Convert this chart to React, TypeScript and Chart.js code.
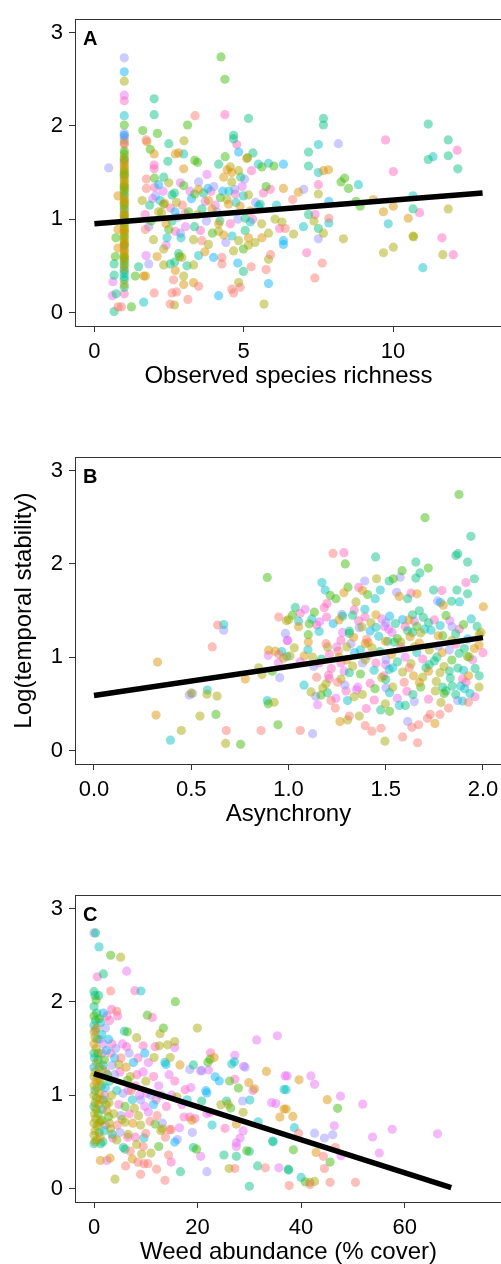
import { useEffect, useRef } from 'react';
import { Chart, registerables } from 'chart.js';

Chart.register(...registerables);

// ggplot2 default hue palette for the 10 groups
const groupColors = ['#F8766D', '#D89000', '#A3A500', '#39B600', '#00BF7D', '#00BFC4', '#00B0F6', '#9590FF', '#E76BF3', '#FF62BC'];

// ---------- Panel A : observed species richness ----------
const richnessColumn: number[][] = [
  [1, 2.73, 7], [1, 2.58, 6], [1, 2.48, 2], [1, 2.33, 8], [1, 2.27, 9], [1, 2.11, 5], [1, 2.01, 3], [1, 1.92, 7], [1, 1.9, 6], [1, 1.88, 8],
  [1, 1.85, 7], [1, 1.82, 1], [1, 1.8, 9], [1, 1.73, 3], [1, 1.7, 3], [1, 1.66, 2], [1, 1.62, 9], [1, 1.6, 2], [1, 1.57, 1], [1, 1.55, 2],
  [1, 1.52, 3], [1, 1.5, 2], [1, 1.47, 4], [1, 1.45, 2], [1, 1.42, 2], [1, 1.4, 1], [1, 1.37, 3], [1, 1.35, 2], [1, 1.32, 2], [1, 1.3, 4],
  [1, 1.27, 2], [1, 1.25, 5], [1, 1.22, 2], [1, 1.2, 1], [1, 1.17, 2], [1, 1.15, 3], [1, 1.12, 2], [1, 1.1, 6], [1, 1.07, 2], [1, 1.05, 1],
  [1, 1.02, 2], [1, 1.0, 4], [1, 0.97, 2], [1, 0.95, 3], [1, 0.92, 2], [1, 0.9, 2], [1, 0.87, 1], [1, 0.85, 2], [1, 0.82, 3], [1, 0.8, 2],
  [1, 0.77, 2], [1, 0.75, 1], [1, 0.72, 2], [1, 0.7, 9], [1, 0.67, 2], [1, 0.65, 1], [1, 0.62, 2], [1, 0.6, 3], [1, 0.57, 2], [1, 0.55, 5],
  [1, 0.52, 2], [1, 0.5, 4], [1, 0.47, 2], [1, 0.45, 6], [1, 0.42, 4], [1, 0.38, 5], [1, 0.35, 4], [1, 0.3, 2], [1, 0.27, 4], [1, 0.2, 9],
  [1, 1.64, 3], [1, 1.48, 2], [1, 1.34, 3], [1, 1.18, 2], [1, 1.04, 3], [1, 0.88, 2], [1, 0.73, 3], [1, 0.58, 2],
];
const richnessLow: number[][] = [
  [0.48, 1.55, 7], [0.79, 1.25, 1], [0.79, 0.89, 1], [0.79, 0.69, 1], [0.66, 0.52, 4], [0.66, 0.4, 4], [0.62, 0.33, 8], [0.6, 0.18, 8],
  [0.73, 0.2, 4], [0.66, 0.01, 4], [0.79, 0.06, 0], [0.9, 0.06, 0], [1.24, 0.06, 3], [1.37, 0.39, 3], [1.65, 0.39, 1], [1.65, 0.11, 5],
  [1.48, 0.49, 4], [0.72, 0.8, 3], [0.7, 0.6, 3],
];
const richnessMid: number[][] = [
  [4.24, 2.74, 3], [4.37, 2.5, 3], [2.0, 2.29, 4], [2.0, 2.12, 4], [3.37, 2.11, 0], [4.37, 2.12, 9], [5.16, 2.08, 4], [3.12, 2.01, 3],
  [1.62, 1.95, 3], [2.11, 1.92, 3], [1.73, 1.85, 0], [1.76, 1.83, 1], [3.0, 1.84, 2], [2.49, 1.81, 4], [1.87, 1.75, 3], [2.0, 1.7, 1],
  [4.66, 1.9, 4], [4.66, 1.86, 4], [4.77, 1.8, 9], [2.71, 1.7, 1], [2.82, 1.71, 1], [2.46, 1.62, 4], [2.99, 1.7, 5], [3.36, 1.63, 3],
  [3.45, 1.61, 3], [4.16, 1.59, 4], [4.38, 1.67, 3], [5.31, 1.71, 4], [5.13, 1.66, 3], [4.83, 1.72, 6], [5.1, 1.65, 1], [5.49, 1.59, 5],
  [5.61, 1.56, 3], [5.83, 1.6, 5], [6.01, 1.57, 3], [6.33, 1.59, 6], [2.0, 1.58, 9], [2.0, 1.54, 9], [2.99, 1.54, 1], [2.32, 1.45, 4],
  [4.55, 1.56, 2], [4.45, 1.53, 1], [4.6, 1.5, 1], [5.26, 1.52, 9], [4.83, 1.52, 2], [5.03, 1.43, 7], [4.33, 1.45, 1], [4.9, 1.45, 4],
  [1.74, 1.43, 0], [1.74, 1.33, 0], [2.01, 1.44, 3], [2.15, 1.37, 6], [2.02, 1.34, 9], [1.95, 1.22, 8], [2.88, 1.39, 8], [2.49, 1.39, 2],
  [2.68, 1.28, 4], [2.6, 1.26, 4], [2.99, 1.36, 3], [3.77, 1.48, 8], [3.49, 1.4, 7], [3.49, 1.32, 1], [3.36, 1.27, 3], [3.8, 1.33, 6],
  [4.0, 1.35, 7], [3.2, 1.3, 8], [4.22, 1.23, 3], [4.44, 1.21, 2], [4.49, 1.16, 1], [5.16, 1.26, 2], [4.99, 1.25, 5], [5.89, 1.32, 9],
  [5.66, 1.28, 9], [6.33, 1.33, 1], [4.7, 1.32, 7], [4.5, 1.3, 5], [4.72, 1.27, 9], [5.5, 1.14, 6], [5.55, 1.16, 4], [2.32, 1.16, 3],
  [2.35, 1.17, 1], [2.15, 1.08, 2], [2.25, 1.07, 2], [2.7, 1.08, 6], [3.04, 1.06, 9], [3.71, 1.19, 8], [3.94, 1.11, 1], [3.82, 1.2, 1],
  [3.6, 1.11, 4], [4.1, 1.08, 7], [4.74, 1.18, 5], [4.88, 1.14, 1], [5.22, 1.09, 1], [6.05, 1.0, 2], [6.28, 0.97, 2], [6.39, 0.9, 0],
  [5.05, 1.01, 4], [5.22, 0.97, 5], [1.71, 0.89, 0], [1.82, 0.92, 7], [2.49, 0.89, 3], [2.71, 0.87, 9], [1.98, 0.78, 2], [2.43, 0.8, 5],
  [2.88, 0.85, 7], [3.32, 0.78, 2], [3.6, 0.77, 0], [3.82, 0.73, 2], [4.16, 0.95, 1], [4.16, 0.87, 2], [4.33, 0.83, 1], [4.61, 0.82, 5],
  [4.83, 0.77, 2], [5.16, 0.8, 1], [5.38, 0.75, 2], [5.61, 0.8, 1], [5.83, 0.85, 2], [6.33, 0.77, 6], [6.33, 0.73, 6], [2.32, 0.68, 2],
  [2.82, 0.63, 4], [2.93, 0.59, 2], [2.85, 0.6, 3], [3.49, 0.61, 5], [3.99, 0.59, 6], [4.27, 0.59, 0], [4.66, 0.66, 2], [4.99, 0.68, 3],
  [5.16, 0.72, 2], [1.82, 0.52, 7], [1.73, 0.61, 8], [2.32, 0.51, 2], [2.54, 0.52, 4], [2.69, 0.54, 4], [4.27, 0.52, 0], [4.8, 0.53, 6],
  [2.71, 0.45, 1], [2.65, 0.35, 0], [2.99, 0.39, 2], [2.99, 0.3, 1], [3.32, 0.51, 2], [3.32, 0.32, 1], [3.49, 0.28, 0], [3.13, 0.14, 0],
  [2.6, 0.21, 0], [2.75, 0.22, 0], [1.71, 0.39, 1], [2.0, 0.21, 0], [2.54, 0.09, 0], [2.68, 0.08, 2], [4.16, 0.18, 6], [4.6, 0.25, 0],
  [4.66, 0.21, 0], [4.88, 0.27, 0], [4.83, 0.32, 2], [5.25, 0.49, 0], [4.99, 0.44, 4], [5.75, 0.46, 0], [5.83, 0.57, 2], [5.83, 0.31, 6],
  [5.68, 0.09, 2],
];
const richnessDense: number[][] = [
  [1.6, 1.2, 2], [1.7, 1.05, 9], [1.85, 1.15, 4], [1.9, 0.98, 3], [2.05, 1.25, 7], [2.2, 1.2, 5], [2.3, 1.3, 8], [2.4, 0.95, 1],
  [2.55, 1.12, 9], [2.6, 0.98, 4], [2.75, 1.18, 2], [2.8, 1.02, 7], [2.95, 1.15, 0], [3.05, 0.92, 8], [3.15, 1.08, 3], [3.25, 1.22, 6],
  [3.35, 0.92, 4], [3.45, 1.05, 2], [3.55, 0.88, 9], [3.65, 1.28, 4], [3.75, 0.98, 7], [3.9, 1.3, 9], [3.95, 0.85, 3], [4.05, 1.15, 8],
  [4.2, 0.98, 4], [4.3, 1.3, 6], [4.4, 0.75, 7], [4.55, 0.95, 9], [4.6, 1.4, 2], [4.8, 1.0, 7], [4.95, 1.35, 8], [5.05, 0.88, 4],
  [5.3, 1.0, 9], [5.4, 1.18, 7], [5.6, 0.95, 2], [5.75, 1.35, 3], [5.9, 0.62, 0], [6.1, 1.15, 5], [6.2, 0.9, 9], [2.1, 0.6, 1],
  [2.4, 0.72, 8], [3.1, 0.5, 4], [3.7, 0.65, 1], [2.9, 0.8, 5],
];
const richnessHigh: number[][] = [
  [7.67, 2.08, 4], [7.67, 2.01, 4], [11.18, 2.02, 4], [9.75, 1.85, 9], [8.17, 1.81, 7], [7.5, 1.8, 5], [11.85, 1.85, 4], [12.15, 1.74, 9],
  [7.17, 1.72, 4], [11.18, 1.64, 4], [11.34, 1.67, 5], [11.85, 1.68, 4], [12.17, 1.54, 4], [10.01, 1.51, 9], [7.17, 1.57, 4], [7.5, 1.5, 5],
  [7.67, 1.52, 1], [7.84, 1.53, 1], [8.26, 1.4, 3], [8.38, 1.44, 3], [8.51, 1.33, 3], [8.84, 1.37, 5], [7.5, 1.37, 9], [7.5, 1.27, 2],
  [7.01, 1.32, 7], [6.83, 1.29, 1], [6.64, 1.21, 0], [7.85, 1.19, 6], [8.76, 1.19, 3], [8.9, 1.14, 3], [9.34, 1.21, 1], [10.67, 1.25, 5],
  [9.68, 1.08, 1], [10.01, 1.14, 1], [10.67, 1.11, 4], [10.89, 1.07, 9], [11.85, 1.11, 2], [10.51, 1.01, 1], [9.84, 0.95, 5], [7.17, 1.05, 4],
  [7.39, 1.05, 9], [7.85, 1.01, 0], [7.85, 0.96, 5], [7.35, 0.98, 2], [7.5, 0.9, 4], [7.0, 0.92, 5], [6.67, 0.84, 2], [7.67, 0.85, 2],
  [8.34, 0.79, 2], [7.5, 0.79, 7], [10.67, 0.82, 2], [10.69, 0.81, 2], [11.64, 0.8, 9], [9.68, 0.64, 2], [10.01, 0.7, 2], [11.67, 0.62, 2],
  [12.02, 0.62, 9], [7.11, 0.64, 9], [7.63, 0.53, 0], [11.0, 0.48, 5], [7.38, 0.37, 0],
];
const richnessFit = [[0, 0.95], [13, 1.28]];

// ---------- Panel B : asynchrony ----------
const asynchronyLow: number[][] = [
  [0.891, 1.855, 3], [0.95, 1.43, 0], [0.99, 1.39, 2], [0.636, 1.345, 0], [0.667, 1.35, 5], [0.667, 1.29, 7], [0.608, 1.11, 0],
  [0.327, 0.948, 1], [0.984, 1.255, 7], [0.994, 1.18, 8], [0.898, 1.075, 1], [0.932, 1.065, 1], [0.965, 1.06, 5], [0.896, 1.02, 8],
  [0.95, 1.03, 0], [0.974, 0.99, 1], [0.948, 0.94, 8], [0.847, 0.886, 2], [0.864, 0.814, 2], [0.917, 0.85, 3], [0.955, 0.78, 7],
  [0.778, 0.765, 1], [0.49, 0.594, 7], [0.507, 0.61, 7], [0.5, 0.617, 2], [0.583, 0.648, 5], [0.581, 0.604, 2], [0.633, 0.583, 2],
  [0.891, 0.535, 5], [0.896, 0.5, 3], [0.926, 0.517, 2], [0.319, 0.379, 1], [0.545, 0.369, 2], [0.627, 0.386, 3], [0.946, 0.276, 3],
  [0.68, 0.214, 0], [0.859, 0.214, 0], [0.449, 0.214, 2], [0.393, 0.11, 5], [0.677, 0.076, 2], [0.754, 0.066, 3],
];
const asynchronyHigh: number[][] = [
  [1.877, 2.744, 3], [1.702, 2.496, 3], [1.938, 2.296, 4], [1.861, 2.09, 4], [1.871, 2.11, 4], [1.229, 2.113, 0], [1.285, 2.12, 9],
  [1.448, 2.075, 4], [1.292, 2.0, 3], [1.921, 2.02, 4], [1.584, 1.927, 3], [1.719, 1.955, 3], [1.655, 2.02, 4], [1.676, 1.903, 4],
  [1.655, 1.848, 4], [1.913, 1.8, 9], [1.956, 1.841, 4], [1.172, 1.8, 5], [1.189, 1.72, 5], [1.392, 1.817, 7], [1.453, 1.841, 2],
  [1.518, 1.817, 4], [1.539, 1.84, 3], [1.575, 1.858, 7], [1.306, 1.751, 3], [1.472, 1.72, 5], [1.215, 1.662, 3], [1.244, 1.627, 3],
  [1.285, 1.69, 1], [1.361, 1.748, 9], [1.381, 1.714, 1], [1.407, 1.672, 3], [1.556, 1.696, 7], [1.57, 1.651, 1], [1.613, 1.627, 4],
  [1.63, 1.686, 9], [1.661, 1.679, 1], [1.746, 1.72, 4], [1.789, 1.714, 9], [1.866, 1.72, 4], [1.767, 1.603, 7], [1.781, 1.586, 6],
  [1.839, 1.6, 4], [1.88, 1.593, 5], [1.796, 1.558, 1], [1.921, 1.679, 4], [2.002, 1.541, 1], [1.446, 1.627, 5], [1.035, 1.534, 4],
  [1.085, 1.514, 8], [1.133, 1.483, 3], [1.184, 1.531, 9], [1.198, 1.575, 9], [1.196, 1.431, 9], [1.001, 1.403, 2], [1.052, 1.386, 5],
  [1.107, 1.358, 3], [1.145, 1.345, 9], [1.052, 1.327, 1], [1.158, 1.276, 5], [1.102, 1.241, 3], [0.996, 1.179, 8], [1.102, 1.162, 1],
  [1.278, 1.438, 4], [1.275, 1.46, 7], [1.338, 1.507, 9], [1.347, 1.593, 2], [1.393, 1.514, 5], [1.393, 1.431, 9], [1.45, 1.455, 1],
  [1.501, 1.369, 7], [1.494, 1.33, 8], [1.587, 1.403, 6], [1.638, 1.455, 4], [1.673, 1.497, 4], [1.693, 1.428, 4], [1.647, 1.386, 8],
  [1.81, 1.448, 3], [1.733, 1.289, 5], [1.841, 1.327, 7], [1.878, 1.3, 9], [1.313, 1.255, 4], [1.313, 1.28, 4], [1.335, 1.214, 1],
  [1.378, 1.324, 2], [1.424, 1.369, 2], [1.278, 1.265, 8], [1.364, 1.317, 7], [1.464, 1.224, 5], [1.515, 1.3, 8], [1.532, 1.265, 8],
  [1.613, 1.283, 4], [1.638, 1.265, 4], [1.625, 1.22, 1], [1.68, 1.26, 2], [1.793, 1.231, 3], [1.77, 1.23, 1], [1.99, 1.265, 2],
  [1.981, 1.241, 2], [1.956, 1.093, 1], [1.921, 1.196, 6], [1.827, 1.076, 7], [1.878, 1.042, 4], [1.904, 1.093, 4], [2.0, 1.048, 9],
  [1.921, 1.007, 3], [1.947, 0.972, 8], [1.193, 1.145, 0], [1.201, 1.11, 2], [1.248, 1.11, 8], [1.256, 1.066, 0], [1.21, 1.03, 9],
  [1.3, 1.11, 2], [1.321, 1.145, 7], [1.395, 1.145, 1], [1.41, 1.155, 1], [1.402, 1.19, 0], [1.429, 1.1, 2], [1.51, 1.17, 4],
  [1.544, 1.162, 4], [1.498, 1.17, 1], [1.578, 1.162, 2], [1.578, 1.11, 9], [1.647, 1.11, 2], [1.673, 1.152, 1], [1.724, 1.076, 2],
  [1.763, 1.0, 4], [1.79, 1.05, 1], [1.008, 1.014, 2], [1.081, 1.014, 1], [1.124, 1.0, 2], [0.992, 1.007, 5], [1.158, 0.938, 9],
  [1.27, 0.938, 9], [1.33, 0.904, 2], [1.313, 0.834, 4], [1.286, 0.85, 8], [1.381, 0.938, 7], [1.45, 0.938, 9], [1.395, 0.972, 2],
  [1.501, 0.972, 7], [1.5, 0.92, 8], [1.536, 0.886, 5], [1.518, 0.869, 5], [1.587, 0.841, 2], [1.621, 0.886, 0], [1.643, 0.8, 1],
  [1.69, 0.786, 2], [1.707, 0.886, 4], [1.724, 0.92, 4], [1.779, 0.834, 2], [1.827, 0.852, 4], [1.832, 0.776, 4], [1.871, 0.883, 4],
  [1.981, 0.8, 4], [1.895, 0.766, 9], [1.913, 0.731, 9], [1.926, 0.8, 1], [1.145, 0.786, 0], [1.206, 0.807, 9], [1.21, 0.77, 9],
  [1.193, 0.714, 2], [1.176, 0.669, 2], [1.116, 0.628, 2], [1.167, 0.593, 3], [1.14, 0.58, 7], [1.253, 0.731, 0], [1.27, 0.766, 2],
  [1.356, 0.679, 8], [1.35, 0.65, 8], [1.296, 0.638, 9], [1.445, 0.662, 3], [1.501, 0.672, 7], [1.536, 0.679, 2], [1.48, 0.78, 2],
  [1.5, 0.76, 4], [1.595, 0.731, 0], [1.609, 0.635, 9], [1.673, 0.73, 1], [1.755, 0.638, 2], [1.793, 0.679, 4], [1.81, 0.638, 4],
  [1.8, 0.61, 3], [1.841, 0.69, 4], [1.885, 0.69, 5], [1.906, 0.662, 5], [1.933, 0.61, 5], [1.959, 0.576, 9], [1.87, 0.535, 7],
  [1.895, 0.53, 5], [1.925, 0.517, 0], [1.784, 0.514, 2], [1.823, 0.455, 0], [1.244, 0.559, 8], [1.219, 0.535, 0], [1.241, 0.455, 0],
  [1.15, 0.49, 8], [1.304, 0.535, 5], [1.338, 0.576, 2], [1.441, 0.541, 9], [1.498, 0.5, 2], [1.474, 0.435, 4], [1.57, 0.483, 5],
  [1.601, 0.483, 4], [1.647, 0.524, 7], [1.313, 0.369, 0], [1.364, 0.369, 2], [1.265, 0.31, 1], [1.304, 0.328, 2], [1.395, 0.266, 0],
  [1.429, 0.207, 0], [1.476, 0.238, 0], [1.613, 0.31, 7], [1.635, 0.248, 0], [1.669, 0.276, 0], [1.715, 0.345, 0], [1.729, 0.386, 0],
  [1.753, 0.29, 1], [1.779, 0.386, 0], [1.587, 0.145, 0], [1.664, 0.083, 0], [1.496, 0.1, 2], [1.061, 0.214, 0], [1.124, 0.18, 7],
];
const asynchronyDense: number[][] = [
  [1.02, 1.45, 3], [1.06, 1.47, 9], [1.12, 1.41, 5], [1.16, 1.38, 8], [1.23, 1.36, 6], [1.26, 1.4, 1], [1.33, 1.45, 4], [1.36, 1.39, 9],
  [1.42, 1.28, 6], [1.45, 1.32, 5], [1.48, 1.41, 8], [1.52, 1.44, 6], [1.55, 1.36, 4], [1.6, 1.33, 9], [1.62, 1.4, 1], [1.66, 1.33, 3],
  [1.7, 1.3, 5], [1.72, 1.37, 4], [1.75, 1.4, 9], [1.78, 1.34, 5], [1.83, 1.39, 8], [1.86, 1.25, 4], [1.9, 1.35, 3], [1.94, 1.41, 5],
  [1.97, 1.33, 4], [1.03, 1.1, 2], [1.06, 0.95, 8], [1.1, 1.08, 5], [1.13, 0.9, 7], [1.17, 0.98, 4], [1.22, 0.88, 9], [1.26, 1.0, 2],
  [1.3, 0.97, 1], [1.34, 1.05, 6], [1.37, 0.82, 3], [1.41, 1.02, 8], [1.44, 0.86, 5], [1.47, 1.06, 4], [1.49, 0.8, 9], [1.53, 1.03, 1],
  [1.56, 0.95, 4], [1.6, 1.0, 8], [1.63, 0.93, 2], [1.66, 1.05, 5], [1.69, 0.98, 9], [1.72, 0.85, 1], [1.75, 0.96, 4], [1.77, 1.12, 7],
  [1.8, 0.9, 2], [1.84, 0.97, 3], [1.86, 1.14, 9], [1.9, 0.86, 5], [1.93, 1.0, 2], [1.96, 0.88, 4], [1.98, 1.13, 1], [1.84, 1.18, 2],
  [1.56, 1.2, 3], [1.37, 1.08, 5], [1.27, 1.18, 9], [1.08, 0.7, 5], [1.2, 0.62, 4], [1.29, 0.7, 7], [1.38, 0.6, 2], [1.42, 0.72, 9],
  [1.52, 0.62, 5], [1.56, 0.56, 8], [1.64, 0.6, 4], [1.68, 0.68, 3], [1.72, 0.55, 9], [1.76, 0.74, 2], [1.86, 0.6, 4], [1.98, 0.68, 2],
  [1.52, 0.42, 3], [1.4, 0.45, 9],
];
const asynchronyFit = [[0, 0.59], [2, 1.21]];

// ---------- Panel C : weed abundance ----------
const weedZero: number[][] = [
  [0, 1.95, 4], [0, 1.85, 3], [0.3, 1.8, 4], [0, 1.75, 5], [0.5, 1.72, 1], [0, 1.68, 1], [0.2, 1.62, 2], [0.6, 1.6, 4], [0, 1.55, 1],
  [0.4, 1.5, 2], [0, 1.45, 4], [0.8, 1.45, 3], [0.1, 1.4, 5], [0.5, 1.35, 2], [0, 1.3, 6], [1.0, 1.3, 4], [0.2, 1.25, 2], [0.7, 1.22, 1],
  [0, 1.2, 2], [0.4, 1.15, 1], [1.2, 1.15, 2], [0, 1.1, 2], [0.6, 1.08, 2], [0.2, 1.05, 5], [1.0, 1.02, 2], [0, 1.0, 2], [0.5, 0.97, 3],
  [0.2, 0.92, 2], [0.9, 0.9, 2], [0, 0.88, 4], [0.4, 0.85, 2], [0.1, 0.8, 2], [0.8, 0.8, 3], [0.3, 0.75, 2], [1.2, 0.72, 2], [0, 0.7, 2],
  [0.6, 0.67, 2], [0.2, 0.62, 2], [1.0, 0.6, 4], [0, 0.57, 2], [0.5, 0.52, 2], [0.2, 0.5, 2], [1.3, 0.48, 4], [0, 0.48, 5],
  [0.5, 1.88, 4], [1.0, 1.82, 3], [0.3, 1.7, 6], [1.1, 1.6, 7], [1.5, 1.45, 9], [0.8, 1.38, 4], [1.8, 1.32, 5], [2.3, 1.25, 8],
  [0.9, 1.18, 2], [1.5, 1.1, 4], [2.0, 1.0, 9], [1.2, 0.95, 1], [2.4, 0.9, 2], [1.6, 0.85, 6], [2.8, 0.77, 3], [1.0, 0.7, 2],
  [2.2, 0.68, 8], [3.2, 0.64, 2], [1.2, 0.55, 1],
];
const weedLow: number[][] = [
  [0, 2.74, 7], [0.3, 2.74, 4], [0.97, 2.59, 5], [3.22, 2.5, 3], [5.15, 2.48, 2], [6.31, 2.33, 8], [1.8, 2.3, 4], [0.64, 2.27, 9],
  [3.22, 2.117, 0], [7.9, 2.12, 9], [9.07, 2.117, 5], [15.7, 2.003, 3], [0, 2.11, 4], [0.2, 2.07, 4], [0.4, 2.02, 3], [0.9, 2.07, 4],
  [3.4, 1.92, 9], [4.4, 1.9, 0], [4.57, 1.85, 9], [10.3, 1.858, 3], [11.26, 1.834, 9], [19.95, 1.72, 2], [13.4, 1.72, 3], [12.74, 1.66, 2],
  [5.86, 1.686, 5], [6.43, 1.679, 3], [8.24, 1.617, 2], [12.6, 1.53, 2], [14.2, 1.54, 2], [15.6, 1.575, 2], [9.5, 1.53, 9], [6.3, 1.52, 9],
  [15.6, 1.51, 8], [11.6, 1.403, 2], [14.7, 1.403, 2], [13.7, 1.352, 5], [13.9, 1.33, 6], [16.6, 1.324, 1], [19.2, 1.324, 4],
  [18.5, 1.276, 7], [20.8, 1.265, 7], [20.6, 1.26, 8], [15.6, 1.152, 9], [14.5, 1.22, 8], [17.6, 1.059, 9], [18.7, 1.082, 8],
  [1.8, 1.88, 6], [2.5, 1.85, 9], [1.3, 1.78, 6], [2.2, 1.72, 7], [3.0, 1.8, 9], [1.5, 1.65, 5], [2.8, 1.6, 6], [3.5, 1.55, 9],
  [1.8, 1.55, 8], [2.4, 1.48, 6], [4.2, 1.5, 7], [3.2, 1.45, 9], [5.2, 1.4, 0], [2.0, 1.38, 3], [4.8, 1.33, 2], [3.5, 1.32, 7],
  [6.2, 1.3, 1], [1.6, 1.28, 2], [2.6, 1.22, 3], [4.0, 1.22, 7], [5.0, 1.25, 9], [7.0, 1.2, 2], [6.5, 1.16, 3], [3.0, 1.15, 4],
  [8.3, 1.22, 9], [9.5, 1.25, 8], [2.2, 1.08, 6], [4.4, 1.05, 5], [3.4, 1.0, 2], [5.6, 1.02, 7], [7.2, 1.05, 0], [8.8, 1.0, 8],
  [1.8, 0.95, 4], [2.9, 0.92, 2], [4.8, 0.9, 9], [6.0, 0.88, 3], [7.8, 0.86, 2], [9.8, 0.88, 8], [2.5, 0.83, 1], [3.8, 0.8, 2],
  [5.2, 0.78, 7], [6.8, 0.8, 9], [8.6, 0.78, 2], [10.5, 0.82, 8], [11.5, 0.9, 6], [1.5, 0.73, 3], [3.0, 0.7, 2], [4.5, 0.68, 0],
  [7.5, 0.7, 1], [9.0, 0.68, 2], [2.0, 0.62, 5], [5.0, 0.6, 7], [6.6, 0.58, 2], [8.0, 0.55, 9], [3.5, 0.58, 4], [11.0, 1.0, 7],
  [12.5, 1.1, 8], [10.0, 1.15, 2], [11.5, 1.2, 9], [17.4, 0.766, 9], [18.5, 0.766, 9], [18.9, 0.731, 1], [19.5, 0.75, 9],
  [15.6, 0.497, 6], [16.1, 0.524, 7], [19.2, 0.438, 4], [19.8, 0.421, 3], [16.7, 0.18, 4], [13.7, 0.087, 0], [12.1, 0.207, 0],
  [9.0, 0.152, 0], [9.65, 0.266, 0], [10.4, 0.266, 0], [14.9, 0.283, 9], [14.4, 0.359, 0], [9.2, 0.369, 2], [7.4, 0.317, 1],
  [6.1, 0.242, 0], [1.22, 0.3, 1], [3.09, 0.325, 1], [2.5, 0.3, 8], [5.66, 0.438, 4], [6.0, 0.42, 4], [8.24, 0.472, 2], [7.0, 0.4, 0],
  [4.05, 0.1, 2], [4.4, 0.52, 2], [1.7, 0.5, 4], [3.6, 0.54, 9], [5.4, 0.74, 2], [6.0, 0.71, 2], [9.65, 0.542, 5], [10.0, 0.59, 0],
  [12.9, 0.62, 2], [13.2, 0.64, 2], [14.6, 0.63, 0], [14.9, 0.63, 0], [11.8, 0.69, 3], [13.2, 0.7, 7], [12.2, 0.78, 0],
  [4.0, 1.4, 6], [5.5, 1.55, 8], [6.8, 1.45, 7], [7.6, 1.35, 6], [8.5, 1.4, 9], [9.8, 1.45, 6], [10.5, 1.35, 8], [11.8, 1.52, 9],
  [6.6, 1.05, 8], [7.4, 0.95, 5], [8.0, 1.1, 9], [9.0, 0.95, 7], [10.2, 1.02, 8], [10.8, 0.72, 0], [12.0, 0.95, 9], [13.0, 1.0, 7],
  [14.0, 0.88, 9], [15.0, 1.0, 8], [16.0, 0.98, 2], [17.0, 0.9, 8], [18.0, 0.95, 5], [9.5, 0.45, 0], [11.0, 0.38, 2], [12.5, 0.45, 3],
  [8.5, 0.28, 0], [6.5, 0.55, 9], [13.8, 0.55, 0], [16.5, 0.65, 8], [19.0, 0.6, 7],
];
const weedMid: number[][] = [
  [31.4, 1.593, 8], [35.4, 1.637, 8], [22.5, 1.455, 9], [27.2, 1.427, 8], [22.0, 1.352, 3], [22.4, 1.386, 3], [23.2, 1.403, 1],
  [26.6, 1.334, 5], [27.1, 1.358, 5], [29.2, 1.3, 7], [28.9, 1.31, 8], [33.3, 1.255, 1], [36.9, 1.207, 8], [22.1, 1.27, 8],
  [23.4, 1.197, 6], [24.2, 1.152, 6], [36.7, 1.062, 5], [26.2, 1.152, 3], [29.9, 1.134, 1], [31.0, 1.069, 1], [30.7, 1.05, 8],
  [27.9, 1.076, 3], [27.2, 1.17, 9], [21.6, 1.048, 6], [21.8, 1.024, 6], [20.8, 0.938, 4], [30.1, 0.948, 5], [28.7, 0.938, 7],
  [34.3, 0.92, 8], [35.1, 0.91, 8], [36.7, 0.852, 1], [35.9, 0.765, 1], [24.5, 0.897, 2], [25.9, 0.904, 2], [25.6, 0.938, 4],
  [26.4, 0.862, 3], [28.8, 0.817, 2], [22.4, 0.817, 9], [21.8, 0.8, 8], [22.8, 0.68, 5], [25.3, 0.645, 9], [27.5, 0.69, 1],
  [31.7, 0.714, 5], [28.8, 0.617, 8], [28.2, 0.541, 8], [27.5, 0.49, 8], [34.5, 0.508, 5], [34.6, 0.5, 4], [29.5, 0.404, 3],
  [30.0, 0.397, 4], [31.6, 0.242, 4], [33.1, 0.221, 0], [35.7, 0.221, 8], [37.5, 0.207, 4], [25.1, 0.359, 4], [27.5, 0.345, 4],
  [27.5, 0.449, 8], [20.6, 0.345, 8], [26.1, 0.214, 2], [27.2, 0.214, 0], [30.0, 0.024, 4], [21.8, 0.18, 7],
];
const weedHigh: number[][] = [
  [37.3, 1.207, 8], [41.9, 1.207, 8], [42.6, 1.117, 8], [39.6, 1.165, 1], [37.1, 1.059, 5], [45.05, 0.952, 1], [47.05, 0.859, 3],
  [47.6, 0.99, 8], [51.9, 0.904, 8], [37.1, 0.852, 1], [38.4, 0.772, 1], [38.7, 0.652, 5], [42.6, 0.593, 7], [44.5, 0.541, 7],
  [46.1, 0.576, 7], [46.4, 0.672, 8], [53.8, 0.552, 8], [57.6, 0.635, 8], [66.35, 0.586, 8], [55.1, 0.379, 8], [39.5, 0.593, 0],
  [46.6, 0.438, 0], [47.7, 0.352, 8], [42.9, 0.386, 1], [44.3, 0.345, 0], [38.5, 0.414, 3], [45.6, 0.283, 3], [44.5, 0.214, 0],
  [37.6, 0.197, 4], [40.0, 0.118, 5], [40.8, 0.07, 3], [41.7, 0.066, 2], [42.6, 0.076, 2], [41.7, 0.042, 0], [37.7, 0.031, 0],
  [45.6, 0.066, 0], [50.5, 0.066, 0],
];
const weedFit = [[0, 1.23], [69, 0.01]];

// ---------- Axes ----------
const stabilityTicks = [0, 1, 2, 3];
const richnessTicks = [0, 5, 10];
const asynchronyTicks = [0, 0.5, 1, 1.5, 2];
const weedTicks = [0, 20, 40, 60];

const FONT = '"Liberation Sans", Arial, Helvetica, sans-serif';

type PanelProps = {
  top: number;
  label: string;
  points: number[][];
  fit: number[][];
  xMin: number;
  xMax: number;
  xTicks: number[];
  xDecimals: number;
  xTitle: string;
  yTitle?: string;
};

const framePlugin = {
  id: 'frame',
  afterDraw(chart: any, _args: any, opts: any) {
    const { ctx, chartArea } = chart;
    const { left, top, right } = chartArea;
    ctx.save();
    ctx.strokeStyle = '#333333';
    ctx.lineWidth = 1;
    ctx.beginPath();
    ctx.moveTo(left, Math.round(top) + 0.5);
    ctx.lineTo(right, Math.round(top) + 0.5);
    ctx.stroke();
    ctx.fillStyle = '#000';
    ctx.font = `bold 20px ${FONT}`;
    ctx.textBaseline = 'alphabetic';
    ctx.textAlign = 'left';
    ctx.fillText(opts.label, left + 8, top + 25.5);
    ctx.restore();
  },
};

function Panel(props: PanelProps) {
  const ref = useRef<HTMLCanvasElement>(null);
  useEffect(() => {
    if (!ref.current) return;
    const datasets: any[] = [
      {
        data: props.fit.map((p) => ({ x: p[0], y: p[1] })),
        showLine: true,
        borderColor: '#000',
        borderWidth: 5.5,
        pointRadius: 0,
        borderCapStyle: 'butt',
      },
    ];
    groupColors.forEach((c, g) => {
      datasets.push({
        data: props.points.filter((p) => p[2] === g).map((p) => ({ x: p[0], y: p[1] })),
        backgroundColor: c + '78',
        borderWidth: 0,
        pointRadius: 4.6,
        showLine: false,
      });
    });
    const chart = new Chart(ref.current, {
      type: 'scatter',
      data: { datasets },
      options: {
        animation: false,
        responsive: false,
        maintainAspectRatio: false,
        events: [],
        layout: { padding: { top: 8, right: 8, left: 0, bottom: 0 } },
        plugins: {
          legend: { display: false },
          tooltip: { enabled: false },
          frame: { label: props.label },
        } as any,
        scales: {
          x: {
            type: 'linear',
            min: props.xMin,
            max: props.xMax,
            afterBuildTicks: (s: any) => {
              s.ticks = props.xTicks.map((v) => ({ value: v }));
            },
            afterFit: (s: any) => {
              s.height = 74;
            },
            grid: { drawOnChartArea: false, drawTicks: true, tickLength: 6, color: '#333333', lineWidth: 1 },
            border: { display: true, color: '#333333', width: 1 },
            ticks: {
              autoSkip: false,
              maxRotation: 0,
              padding: 7,
              color: '#000',
              font: { family: FONT, size: 22 },
              callback: (v: any) => Number(v).toFixed(props.xDecimals),
            },
            title: {
              display: true,
              text: props.xTitle,
              color: '#000',
              font: { family: FONT, size: 24 },
              padding: { top: 0, bottom: 9 },
            },
          },
          y: {
            type: 'linear',
            min: -0.145,
            max: 3.144,
            afterBuildTicks: (s: any) => {
              s.ticks = stabilityTicks.map((v) => ({ value: v }));
            },
            afterFit: (s: any) => {
              s.width = 75;
            },
            grid: { drawOnChartArea: false, drawTicks: true, tickLength: 6, color: '#333333', lineWidth: 1 },
            border: { display: true, color: '#333333', width: 1 },
            ticks: {
              padding: 6,
              color: '#000',
              font: { family: FONT, size: 22 },
              callback: (v: any) => String(v),
            },
            title: {
              display: !!props.yTitle,
              text: props.yTitle || '',
              color: '#000',
              font: { family: FONT, size: 24 },
              padding: { top: 10, bottom: 0 },
            },
          },
        },
      },
      plugins: [framePlugin],
    });
    return () => chart.destroy();
  }, []);
  return (
    <canvas
      ref={ref}
      width={510}
      height={400}
      style={{ position: 'absolute', left: 0, top: props.top, width: 510, height: 400 }}
    />
  );
}

export default function App() {
  return (
    <div style={{ position: 'absolute', left: 0, top: 0, width: 501, height: 1264, overflow: 'hidden', background: '#fff' }}>
      <Panel
        top={0}
        label="A"
        points={[...richnessColumn, ...richnessLow, ...richnessMid, ...richnessDense, ...richnessHigh]}
        fit={richnessFit}
        xMin={-0.65}
        xMax={13.65}
        xTicks={richnessTicks}
        xDecimals={0}
        xTitle="Observed species richness"
      />
      <Panel
        top={438}
        label="B"
        points={[...asynchronyLow, ...asynchronyHigh, ...asynchronyDense]}
        fit={asynchronyFit}
        xMin={-0.0977}
        xMax={2.098}
        xTicks={asynchronyTicks}
        xDecimals={1}
        xTitle="Asynchrony"
        yTitle="Log(temporal stability)"
      />
      <Panel
        top={876}
        label="C"
        points={[...weedZero, ...weedLow, ...weedMid, ...weedHigh]}
        fit={weedFit}
        xMin={-3.67}
        xMax={78.8}
        xTicks={weedTicks}
        xDecimals={0}
        xTitle="Weed abundance (% cover)"
      />
    </div>
  );
}
